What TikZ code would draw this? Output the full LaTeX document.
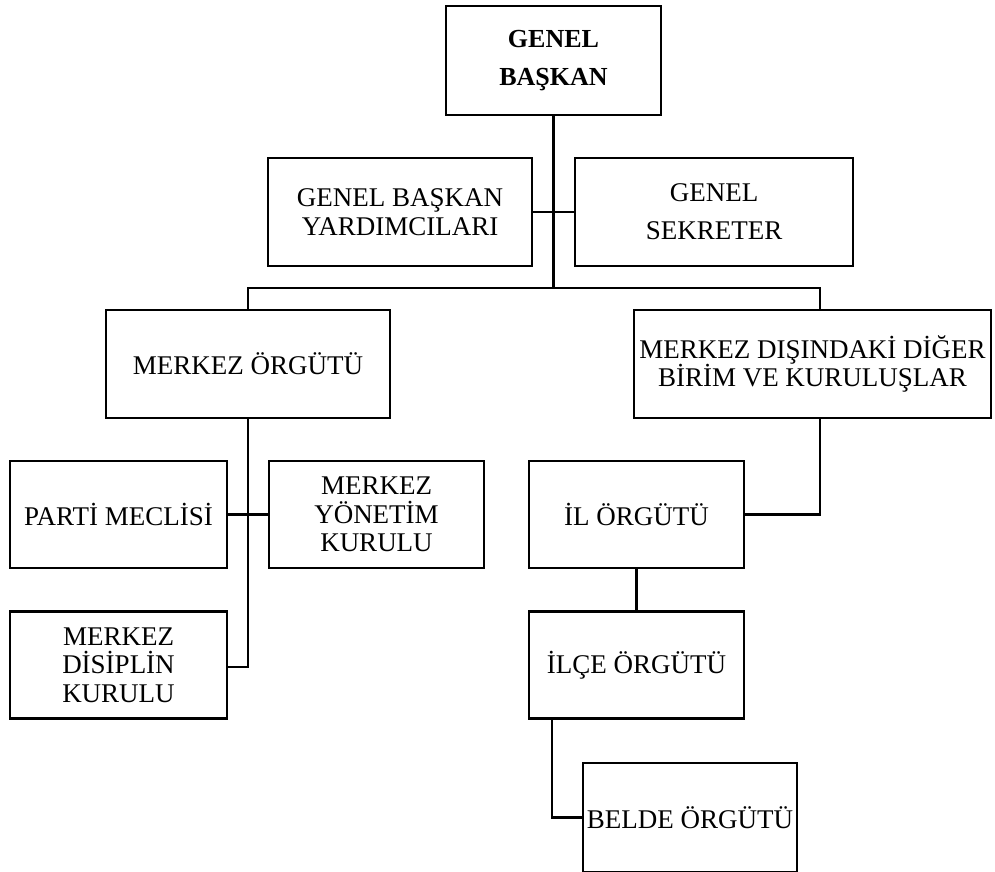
\documentclass[tikz,border=0pt]{standalone}
\usepackage{fontspec}
\setmainfont{Liberation Serif}
\begin{document}
\begin{tikzpicture}[x=1pt,y=-1pt]
\tikzset{
  box/.style={draw, line width=2.8pt, inner sep=0pt, align=center,
    font=\fontsize{27}{28.5}\selectfont},
  conn/.style={line width=2.8pt},
  thin/.style={line width=2.3pt}
}
\useasboundingbox (0,0) rectangle (995,871);
\fill[white] (0,0) rectangle (995,871);

\node[box, minimum width=215pt, minimum height=109pt,
  font=\bfseries\fontsize{26}{38}\selectfont] (gb) at (553.5,60.5) {GENEL\\BAŞKAN};
\node[box, minimum width=264pt, minimum height=108pt] (gby) at (400,212) {GENEL BAŞKAN\\YARDIMCILARI};
\node[box, minimum width=278pt, minimum height=108pt,
  font=\fontsize{27}{38}\selectfont] (gs) at (714,212) {GENEL\\SEKRETER};
\node[box, minimum width=284pt, minimum height=108pt] (mo) at (248,364) {MERKEZ ÖRGÜTÜ};
\node[box, minimum width=357pt, minimum height=108pt] (mdd) at (812.5,364) {MERKEZ DIŞINDAKİ DİĞER\\BİRİM VE KURULUŞLAR};
\node[box, minimum width=217pt, minimum height=107pt] (pm) at (118.5,514.5) {PARTİ MECLİSİ};
\node[box, minimum width=215pt, minimum height=107pt] (myk) at (376.5,514.5) {MERKEZ\\YÖNETİM\\KURULU};
\node[box, minimum width=217pt, minimum height=107pt] (mdk) at (118.5,665) {MERKEZ\\DİSİPLİN\\KURULU};
\node[box, minimum width=215pt, minimum height=107pt] (il) at (636.5,514.5) {İL ÖRGÜTÜ};
\node[box, minimum width=215pt, minimum height=107pt] (ilce) at (636.5,665) {İLÇE ÖRGÜTÜ};
\node[box, minimum width=214pt, minimum height=109pt] (belde) at (690,817.5) {BELDE ÖRGÜTÜ};

\coordinate (t) at (553.5,288);
\coordinate (hl) at (248,288);
\coordinate (hr) at (820,288);
\coordinate (mk) at (248,667);
\coordinate (rk) at (820,514.5);
\coordinate (bk) at (552,817.5);

\draw[conn] (gb.south) -- (t);
\draw[thin] (gby.east) -- (gs.west);
\draw[conn] (hl |- mo.north) -- (hl) -- (hr) -- (hr |- mdd.north);
\draw[conn] (mo.south) -- (pm.east -| mo.south);
\draw[thin] (pm.east -| mo.south) -- (mk) -- (mk -| mdk.east);
\draw[thin] (pm.east) -- (myk.west);
\draw[conn] (rk |- mdd.south) -- (rk) -- (il.east);
\draw[conn] (il.south) -- (ilce.north);
\draw[conn] (bk |- ilce.south) -- (bk) -- (belde.west);
\end{tikzpicture}
\end{document}
